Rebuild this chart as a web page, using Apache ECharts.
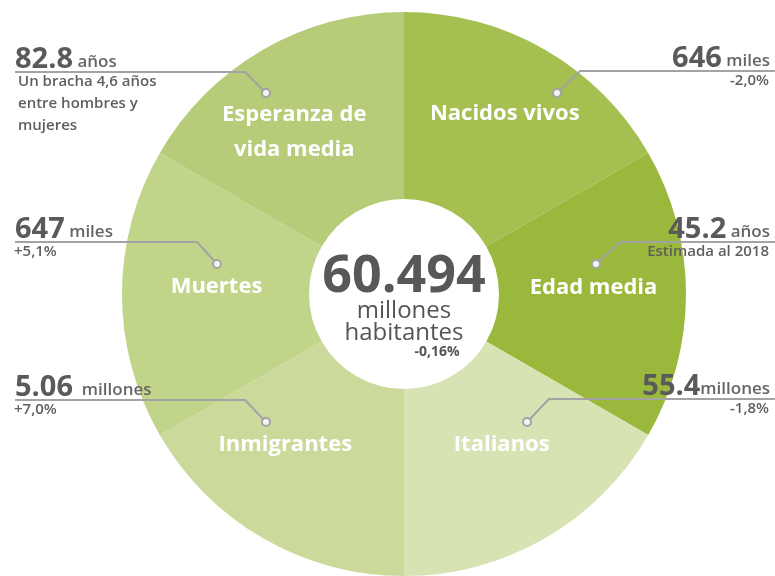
<!DOCTYPE html>
<html>
<head>
<meta charset="utf-8">
<script src="https://cdn.jsdelivr.net/npm/echarts@6/dist/echarts.min.js"></script>
<style>
    html, body {margin: 0; padding: 0; background: #fff;}
    #main {width: 775px; height: 576px;}
</style>
</head>
<body>
<div id="main"></div>
<script>
    // slices, clockwise from 12 o'clock
    var names = ['Nacidos vivos', 'Edad media', 'Italianos', 'Inmigrantes', 'Muertes', 'Esperanza de\nvida media'];
    var shares = [1, 1, 1, 1, 1, 1];
    var figures = ['646', '45.2', '55.4', '5.06', '647', '82.8'];
    var units = [' miles', ' años', 'millones', '  millones', ' miles', ' años'];
    var notes = ['-2,0%', 'Estimada al 2018', '-1,8%', '+7,0%', '+5,1%', 'Un bracha 4,6 años\nentre hombres y\nmujeres'];
    var totalValue = '60.494';
    var totalUnit = 'millones\nhabitantes';
    var totalChange = '-0,16%';

    var colors = ['#a5bf51', '#9ab83b', '#d8e3b3', '#cbd99b', '#c0d48a', '#b6cc79'];

    // callout layout (dot inside slice -> bend -> horizontal rule)
    var callouts = [
        {side: 'right', dot: [557, 93], bend: [580, 71], lineY: 71},
        {side: 'right', dot: [596, 264], bend: [620, 242], lineY: 242},
        {side: 'right', dot: [527, 422], bend: [549, 399], lineY: 399},
        {side: 'left', dot: [266, 422], bend: [245, 400], lineY: 400},
        {side: 'left', dot: [217, 264], bend: [197, 242], lineY: 242},
        {side: 'left', dot: [266, 93], bend: [245, 72], lineY: 72}
    ];
    var innerShift = [[5, -14], [-2, -6], [2, -15], [-23, -15], [4, -7], [-14, 4]];

    var data = names.map(function (n, i) {
        return {name: n, value: shares[i]};
    });

    var chart = echarts.init(document.getElementById('main'));
    var center = [404, 294];
    var radius = [95, 282];
    var font = '"Open Sans", "Noto Sans", sans-serif';

    function overlay(extra) {
        var s = {
            type: 'pie',
            center: center,
            radius: radius,
            startAngle: 90,
            clockwise: true,
            silent: true,
            avoidLabelOverlap: false,
            itemStyle: {color: 'transparent'},
            emphasis: {disabled: true},
            labelLine: {show: false},
            data: data
        };
        for (var k in extra) s[k] = extra[k];
        return s;
    }

    chart.setOption({
        animation: false,
        textStyle: {fontFamily: font},
        series: [
            {
                type: 'pie',
                center: center,
                radius: radius,
                startAngle: 90,
                clockwise: true,
                silent: true,
                avoidLabelOverlap: false,
                emphasis: {disabled: true},
                itemStyle: {
                    color: function (p) {
                        return colors[p.dataIndex];
                    }
                },
                label: {
                    show: true,
                    position: 'inside',
                    color: '#fff',
                    fontFamily: font,
                    fontSize: 22,
                    fontWeight: 'bold',
                    lineHeight: 35,
                    formatter: '{b}'
                },
                labelLayout: function (p) {
                    var d = innerShift[p.dataIndex];
                    return {dx: d[0], dy: d[1]};
                },
                data: data
            },
            // figures above the rule
            overlay({
                label: {
                    show: true,
                    position: 'outside',
                    formatter: function (p) {
                        return '{n|' + figures[p.dataIndex] + '}{u|' + units[p.dataIndex] + '}';
                    },
                    rich: {
                        n: {fontFamily: font, fontSize: 29, fontWeight: 'bold', color: '#5a5a5a', lineHeight: 34, verticalAlign: 'bottom'},
                        u: {fontFamily: font, fontSize: 17, fontWeight: 600, color: '#666', lineHeight: 34, verticalAlign: 'bottom', padding: [0, 0, 3, 0]}
                    }
                },
                labelLayout: function (p) {
                    var c = callouts[p.dataIndex];
                    var left = c.side === 'left';
                    return {
                        x: left ? 15 : 770,
                        y: c.lineY + 2,
                        align: left ? 'left' : 'right',
                        verticalAlign: 'bottom'
                    };
                }
            }),
            // notes under the rule
            overlay({
                label: {
                    show: true,
                    position: 'outside',
                    fontFamily: font,
                    fontSize: 15,
                    fontWeight: 600,
                    color: '#5f5f5f',
                    lineHeight: 22,
                    formatter: function (p) {
                        return notes[p.dataIndex];
                    }
                },
                labelLayout: function (p) {
                    var c = callouts[p.dataIndex];
                    var left = c.side === 'left';
                    return {
                        x: left ? (p.dataIndex === 5 ? 18 : 14) : 769,
                        y: c.lineY - 1,
                        align: left ? 'left' : 'right',
                        verticalAlign: 'top'
                    };
                }
            })
        ],
        graphic: callouts.map(function (c) {
            var left = c.side === 'left';
            return {
                type: 'polyline',
                shape: {points: [c.dot, c.bend, [left ? 15 : 775, c.lineY]]},
                style: {fill: null, stroke: '#a3a3a3', lineWidth: 2},
                z: 99
            };
        }).concat(callouts.map(function (c) {
            return {
                type: 'circle',
                shape: {cx: c.dot[0], cy: c.dot[1], r: 4},
                style: {fill: '#f4f4f4', stroke: '#a3a3a3', lineWidth: 2},
                z: 100
            };
        })).concat([
            {
                type: 'text',
                x: center[0],
                y: 254,
                z: 100,
                style: {
                    text: '{n|' + totalValue + '}\n{m|' + totalUnit.split('\n').join('}\n{m|') + '}',
                    align: 'center',
                    verticalAlign: 'top',
                    rich: {
                        n: {fontFamily: font, fontSize: 52, fontWeight: 'bold', fill: '#585858', lineHeight: 46, align: 'center'},
                        m: {fontFamily: font, fontSize: 24, fill: '#555', lineHeight: 22, align: 'center'}
                    }
                }
            },
            {
                type: 'text',
                x: 437,
                y: 352,
                z: 100,
                style: {
                    text: totalChange,
                    align: 'center',
                    verticalAlign: 'middle',
                    fontFamily: font,
                    fontSize: 14,
                    fontWeight: 'bold',
                    fill: '#555'
                }
            }
        ])
    });
</script>
</body>
</html>
